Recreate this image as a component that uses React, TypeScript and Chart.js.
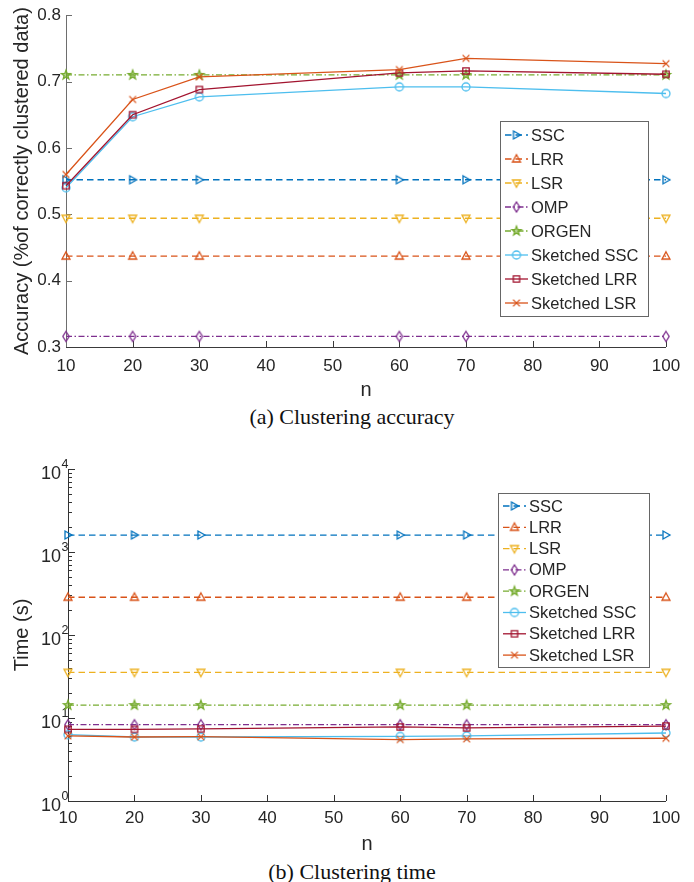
import React, { useEffect, useRef } from 'react';
import { Chart, registerables } from 'chart.js';

Chart.register(...registerables);
Chart.defaults.font.family = '"Liberation Sans", Arial, Helvetica, sans-serif';
Chart.defaults.font.size = 17;
Chart.defaults.color = '#262626';

// ---------------- data ----------------
const N_VALUES = [10, 20, 30, 60, 70, 100];
const SERIES = ['SSC', 'LRR', 'LSR', 'OMP', 'ORGEN', 'Sketched SSC', 'Sketched LRR', 'Sketched LSR'];

// (a) clustering accuracy
const ACC_SSC = [0.552, 0.552, 0.552, 0.552, 0.552, 0.552];
const ACC_LRR = [0.437, 0.437, 0.437, 0.437, 0.437, 0.437];
const ACC_LSR = [0.494, 0.494, 0.494, 0.494, 0.494, 0.494];
const ACC_OMP = [0.316, 0.316, 0.316, 0.316, 0.316, 0.316];
const ACC_ORGEN = [0.71, 0.71, 0.71, 0.71, 0.71, 0.71];
const ACC_SK_SSC = [0.54, 0.647, 0.677, 0.692, 0.692, 0.682];
const ACC_SK_LRR = [0.543, 0.65, 0.688, 0.713, 0.716, 0.711];
const ACC_SK_LSR = [0.56, 0.673, 0.707, 0.718, 0.735, 0.727];

// (b) clustering time (s)
const TIME_SSC = [1600, 1600, 1600, 1600, 1600, 1600];
const TIME_LRR = [285, 285, 285, 285, 285, 285];
const TIME_LSR = [35.5, 35.5, 35.5, 35.5, 35.5, 35.5];
const TIME_OMP = [8.3, 8.3, 8.3, 8.3, 8.3, 8.3];
const TIME_ORGEN = [14.3, 14.3, 14.3, 14.3, 14.3, 14.3];
const TIME_SK_SSC = [6.3, 5.9, 5.9, 6.0, 6.1, 6.6];
const TIME_SK_LRR = [7.3, 7.3, 7.4, 7.8, 7.6, 8.0];
const TIME_SK_LSR = [6.1, 5.9, 5.95, 5.5, 5.6, 5.7];

const ACC_TICKS = [0.3, 0.4, 0.5, 0.6, 0.7, 0.8];
const X_TICKS = [10, 20, 30, 40, 50, 60, 70, 80, 90, 100];
const TIME_DECADES = [0, 1, 2, 3, 4];

const ACC_DATA = [ACC_SSC, ACC_LRR, ACC_LSR, ACC_OMP, ACC_ORGEN, ACC_SK_SSC, ACC_SK_LRR, ACC_SK_LSR];
const TIME_DATA = [TIME_SSC, TIME_LRR, TIME_LSR, TIME_OMP, TIME_ORGEN, TIME_SK_SSC, TIME_SK_LRR, TIME_SK_LSR];

// ---------------- styles ----------------
const COLORS = ['#0072BD', '#D95319', '#EDB120', '#7E2F8E', '#77AC30', '#4DBEEE', '#A2142F', '#D95319'];
const DASHED = [6.5, 4];
const DASHDOT = [6, 2.5, 1.5, 2.5];
const DASHES = [DASHED, DASHED, DASHED, DASHDOT, DASHDOT, [], [], []];
const MARKERS = ['triRight', 'triUp', 'triDown', 'diamond', 'star', 'circle', 'square', 'x'];
const TEXT = '#262626';
const SANS = '"Liberation Sans", Arial, sans-serif';

function makeMarker(kind: string, color: string): HTMLCanvasElement {
  const s = 14;
  const c = document.createElement('canvas');
  c.width = s;
  c.height = s;
  const g = c.getContext('2d') as CanvasRenderingContext2D;
  const m = s / 2;
  g.strokeStyle = color;
  g.fillStyle = color;
  g.lineWidth = 1.3;
  g.lineJoin = 'miter';
  g.beginPath();
  const poly = (pts: number[][]) => {
    pts.forEach((p, i) => (i === 0 ? g.moveTo(m + p[0], m + p[1]) : g.lineTo(m + p[0], m + p[1])));
    g.closePath();
  };
  switch (kind) {
    case 'triRight':
      poly([[-3, -4], [4, 0], [-3, 4]]);
      break;
    case 'triUp':
      poly([[0, -4.3], [4, 3], [-4, 3]]);
      break;
    case 'triDown':
      poly([[0, 4.3], [4, -3], [-4, -3]]);
      break;
    case 'diamond':
      poly([[0, -5], [3.2, 0], [0, 5], [-3.2, 0]]);
      break;
    case 'star': {
      const pts: number[][] = [];
      for (let i = 0; i < 10; i++) {
        const r = i % 2 === 0 ? 4.8 : 2.0;
        const a = -Math.PI / 2 + (i * Math.PI) / 5;
        pts.push([r * Math.cos(a), r * Math.sin(a)]);
      }
      poly(pts);
      g.globalAlpha = 0.55;
      g.fill();
      g.globalAlpha = 1;
      break;
    }
    case 'circle':
      g.arc(m, m, 4, 0, Math.PI * 2);
      break;
    case 'square':
      g.rect(m - 3.2, m - 3.2, 6.4, 6.4);
      break;
    case 'x':
      g.moveTo(m - 3.4, m - 3.4);
      g.lineTo(m + 3.4, m + 3.4);
      g.moveTo(m + 3.4, m - 3.4);
      g.lineTo(m - 3.4, m + 3.4);
      break;
  }
  g.stroke();
  return c;
}

// ---------------- plugins ----------------
const legendPlugin = {
  id: 'mlegend',
  afterDatasetsDraw(chart: any, _args: any, opts: any) {
    const { ctx } = chart;
    const { x, y, w, h, first, step } = opts;
    ctx.save();
    ctx.fillStyle = '#ffffff';
    ctx.fillRect(x, y, w, h);
    ctx.strokeStyle = '#666666';
    ctx.lineWidth = 1;
    ctx.strokeRect(x + 0.5, y + 0.5, w, h);
    chart.data.datasets.forEach((ds: any, i: number) => {
      const cy = y + first + i * step;
      ctx.strokeStyle = ds.borderColor;
      ctx.lineWidth = ds.borderWidth;
      ctx.setLineDash(ds.borderDash || []);
      ctx.beginPath();
      ctx.moveTo(x + 5, cy);
      ctx.lineTo(x + 28, cy);
      ctx.stroke();
      ctx.setLineDash([]);
      const img = ds.pointStyle as HTMLCanvasElement;
      ctx.drawImage(img, x + 16.5 - img.width / 2, cy - img.height / 2);
      ctx.fillStyle = TEXT;
      ctx.font = '16.5px ' + SANS;
      ctx.textBaseline = 'middle';
      ctx.textAlign = 'left';
      ctx.fillText(ds.label, x + 31, cy + 1);
    });
    ctx.restore();
  },
};

const axesPlugin = {
  id: 'maxes',
  beforeDatasetsDraw(chart: any, _args: any, opts: any) {
    const { ctx, chartArea: a, scales } = chart;
    const xs = scales.x;
    const ys = scales.y;
    const line = (x1: number, y1: number, x2: number, y2: number) => {
      ctx.beginPath();
      ctx.moveTo(x1, y1);
      ctx.lineTo(x2, y2);
      ctx.stroke();
    };
    ctx.save();
    ctx.lineWidth = 1;
    // x ticks (inward)
    ctx.strokeStyle = opts.xColor;
    X_TICKS.forEach((v) => {
      const px = Math.round(xs.getPixelForValue(v)) + 0.5;
      line(px, a.bottom, px, a.bottom - 6);
    });
    // y ticks (inward)
    ctx.strokeStyle = opts.yColor;
    if (opts.log) {
      TIME_DECADES.forEach((d) => {
        for (let k = 1; k <= 9; k++) {
          if (d === 4 && k > 1) break;
          const v = k * Math.pow(10, d);
          const py = Math.round(ys.getPixelForValue(v)) + 0.5;
          line(a.left, py, a.left + (k === 1 ? 7 : 4), py);
        }
      });
      // labels 10^d
      ctx.fillStyle = TEXT;
      ctx.textBaseline = 'middle';
      TIME_DECADES.forEach((d) => {
        const py = ys.getPixelForValue(Math.pow(10, d));
        ctx.font = '18px ' + SANS;
        ctx.textAlign = 'right';
        ctx.fillText('10', a.left - 7, py + 5);
        ctx.font = '12.5px ' + SANS;
        ctx.textAlign = 'left';
        ctx.fillText(String(d), a.left - 6.5, py - 4);
      });
    } else {
      ACC_TICKS.forEach((v) => {
        const py = Math.round(ys.getPixelForValue(v)) + 0.5;
        line(a.left, py, a.left + 6, py);
      });
    }
    // axis lines
    ctx.strokeStyle = opts.yColor;
    const lx = Math.round(a.left) + 0.5;
    line(lx, a.top, lx, a.bottom);
    ctx.strokeStyle = opts.xColor;
    const by = Math.round(a.bottom) + 0.5;
    line(a.left, by, a.right, by);
    ctx.restore();
  },
};

// ---------------- configs ----------------
function makeDatasets(values: number[][]) {
  return SERIES.map((name, i) => ({
    label: name,
    data: N_VALUES.map((n, j) => ({ x: n, y: values[i][j] })),
    borderColor: COLORS[i],
    borderWidth: 1.3,
    borderDash: DASHES[i],
    pointStyle: makeMarker(MARKERS[i], COLORS[i]),
    pointRadius: 5,
    pointHoverRadius: 5,
    pointBorderColor: COLORS[i],
    pointBackgroundColor: 'rgba(0,0,0,0)',
    fill: false,
    tension: 0,
    clip: false as any,
    order: SERIES.length - 1 - i,
  }));
}

const W = 694;
const TITLE_FONT = { size: 20 };

function accConfig(): any {
  const H = 400;
  const left = 66;
  const bottom = 347;
  return {
    type: 'line',
    data: { datasets: makeDatasets(ACC_DATA) },
    plugins: [axesPlugin, legendPlugin],
    options: {
      responsive: false,
      animation: false,
      events: [],
      layout: { padding: { left: 0, right: W - 666, top: 14, bottom: 0 } },
      plugins: {
        legend: { display: false },
        tooltip: { enabled: false },
        maxes: { log: false, xColor: '#3a3a3a', yColor: '#6e6e6e' },
        mlegend: { x: 500, y: 121, w: 148, h: 195, first: 14, step: 24 },
      },
      scales: {
        x: {
          type: 'linear',
          min: 10,
          max: 100,
          ticks: { stepSize: 10, padding: 9, autoSkip: false, maxRotation: 0, color: TEXT },
          grid: { display: false, drawTicks: false },
          border: { display: false },
          title: { display: true, text: 'n', color: TEXT, font: TITLE_FONT, padding: { top: 0, bottom: -2 } },
          afterFit: (s: any) => {
            s.height = H - bottom;
          },
        },
        y: {
          type: 'linear',
          min: 0.3,
          max: 0.8,
          ticks: {
            stepSize: 0.1,
            padding: 5,
            color: TEXT,
            callback: (v: any) => Number(v).toFixed(1),
          },
          grid: { display: false, drawTicks: false },
          border: { display: false },
          title: {
            display: true,
            text: 'Accuracy (%of correctly clustered data)',
            color: TEXT,
            font: TITLE_FONT,
            padding: { top: 10, bottom: 0 },
          },
          afterFit: (s: any) => {
            s.width = left;
          },
        },
      },
    },
  };
}

function timeConfig(): any {
  const H = 414;
  const left = 68;
  const bottom = 361;
  return {
    type: 'line',
    data: { datasets: makeDatasets(TIME_DATA) },
    plugins: [axesPlugin, legendPlugin],
    options: {
      responsive: false,
      animation: false,
      events: [],
      layout: { padding: { left: 0, right: W - 666, top: 29, bottom: 0 } },
      plugins: {
        legend: { display: false },
        tooltip: { enabled: false },
        maxes: { log: true, xColor: '#333333', yColor: '#333333' },
        mlegend: { x: 498, y: 53, w: 151, h: 174, first: 13, step: 21.3 },
      },
      scales: {
        x: {
          type: 'linear',
          min: 10,
          max: 100,
          ticks: { stepSize: 10, padding: 7, autoSkip: false, maxRotation: 0, color: TEXT },
          grid: { display: false, drawTicks: false },
          border: { display: false },
          title: { display: true, text: 'n', color: TEXT, font: TITLE_FONT, padding: { top: 0, bottom: -2 } },
          afterFit: (s: any) => {
            s.height = H - bottom;
          },
        },
        y: {
          type: 'logarithmic',
          min: 1,
          max: 10000,
          ticks: { display: false },
          grid: { display: false, drawTicks: false },
          border: { display: false },
          title: {
            display: true,
            text: 'Time (s)',
            color: TEXT,
            font: TITLE_FONT,
            padding: { top: 10, bottom: 0 },
          },
          afterFit: (s: any) => {
            s.width = left;
          },
        },
      },
    },
  };
}

function ChartCanvas({ make, height, top }: { make: () => any; height: number; top: number }) {
  const ref = useRef<HTMLCanvasElement | null>(null);
  useEffect(() => {
    const chart = new Chart(ref.current as HTMLCanvasElement, make());
    return () => chart.destroy();
  }, []);
  return (
    <canvas
      ref={ref}
      width={W}
      height={height}
      style={{ position: 'absolute', left: 0, top, width: W, height, display: 'block' }}
    />
  );
}

const captionStyle: React.CSSProperties = {
  position: 'absolute',
  left: 0,
  width: 704,
  textAlign: 'center',
  fontFamily: '"Liberation Serif", "Times New Roman", serif',
  fontSize: 22,
  lineHeight: '22px',
  color: '#111',
  whiteSpace: 'nowrap',
};

export default function App() {
  return (
    <div style={{ position: 'absolute', left: 0, top: 0, width: W, height: 882, background: '#fff', overflow: 'hidden' }}>
      <ChartCanvas make={accConfig} height={400} top={0} />
      <div style={{ ...captionStyle, top: 406 }}>(a) Clustering accuracy</div>
      <ChartCanvas make={timeConfig} height={414} top={440} />
      <div style={{ ...captionStyle, top: 861 }}>(b) Clustering time</div>
    </div>
  );
}
